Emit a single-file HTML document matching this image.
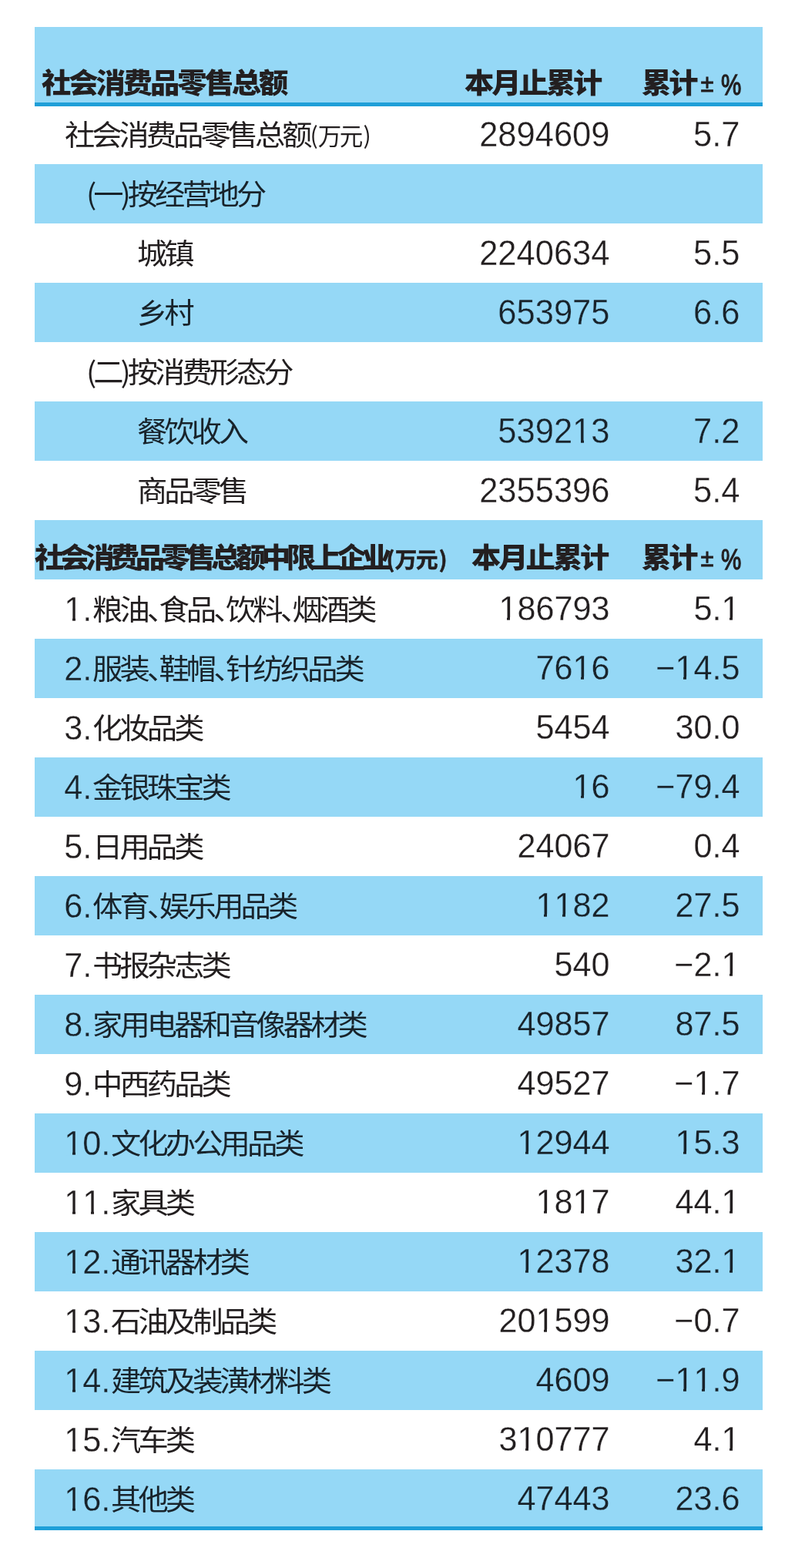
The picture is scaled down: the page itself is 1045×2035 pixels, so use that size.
<!DOCTYPE html>
<html lang="zh-CN">
<head>
<meta charset="utf-8">
<title>社会消费品零售总额</title>
<style>
html,body{margin:0;padding:0;background:#fff;}
body{width:1045px;height:2035px;position:relative;overflow:hidden;font-family:"Liberation Sans","Noto Sans CJK SC",sans-serif;color:#231f20;}
.bg{position:absolute;left:45px;width:945px;background:#95d8f6;}
.ln{position:absolute;left:45px;width:945px;height:4.5px;background:#1f9fd8;}
.r{position:absolute;left:0;width:1045px;height:77px;line-height:77px;white-space:nowrap;}
.r.b{color:#18232b;}
.l{position:absolute;top:0;height:77px;white-space:nowrap;}
.l .n{margin-right:1px;}
.n,.v,.p{font-kerning:none;-webkit-text-stroke:0.25px #fff;}
.b .n,.b .v,.b .p{-webkit-text-stroke-color:#95d8f6;}
.n{font-size:43.2px;font-family:"Liberation Sans",sans-serif;display:inline-block;transform:translateY(0px) scaleY(1.027);transform-origin:0 69%;}
.c{font-size:37.1px;font-weight:400;font-family:"Noto Sans CJK SC","Liberation Sans",sans-serif;letter-spacing:-3.704px;display:inline-block;transform:scaleX(1.06);transform-origin:0 50%;position:relative;top:-0.8px;font-feature-settings:"halt";}
.t1 .c{letter-spacing:-3.798px;}
.d{display:inline-block;width:14.53px;letter-spacing:0;}
.v,.p{position:absolute;top:0;font-size:43.2px;text-align:right;transform:translateY(0px) scaleY(1.027);transform-origin:100% 69%;}
.t1 .v,.t1 .p{font-size:43.5px;transform:translateY(1px) scaleY(1.053);-webkit-text-stroke-width:0.3px;}
.mw{position:absolute;left:0;top:0;width:3em;height:77px;font-size:43.2px;transform:translateY(0px) scaleY(1.027);transform-origin:0 69%;}
.m{position:absolute;top:calc(38.5px + 0.2720em - 1.1px);height:calc(0.0747em + 2.1px);background:#fff;}
.b .m{background:#95d8f6;}
.v{right:253.5px;}
.p{right:84.5px;}
.u{position:absolute;top:0;font-size:30.5px;letter-spacing:-2.40px;font-family:"Noto Sans CJK SC","Liberation Sans",sans-serif;}
.uc{position:relative;top:1.2px;margin:0 2.6px 0 2.2px;}
.hu{position:absolute;font-weight:700;font-size:28.6px;font-family:"Noto Sans CJK SC","Liberation Sans",sans-serif;white-space:nowrap;letter-spacing:-1.30px;line-height:50px;height:50px;color:#231f20;transform:scaleX(1.0);transform-origin:0 50%;-webkit-text-stroke:0.6px #231f20;}
.hu i{font-style:normal;font-weight:700;letter-spacing:0;}
.hu i:first-child{margin-right:0.4px;}
.hu i:last-child{margin-left:2.4px;}
.pm{position:absolute;font-size:31px;font-family:"Liberation Sans",sans-serif;line-height:50px;height:50px;color:#231f20;-webkit-text-stroke:0.8px #231f20;}
.pc{position:absolute;font-size:37px;font-family:"Liberation Sans",sans-serif;line-height:50px;height:50px;color:#231f20;transform:scaleX(0.8);transform-origin:0 50%;-webkit-text-stroke:1.3px #231f20;}
.h{position:absolute;font-weight:900;font-size:36.5px;font-family:"Noto Sans CJK SC","Liberation Sans",sans-serif;white-space:nowrap;letter-spacing:-2.929px;transform:scaleX(1.05);transform-origin:0 50%;line-height:50px;height:50px;color:#231f20;}
</style>
</head>
<body>
<div class="bg" style="top:35px;height:100px"></div>
<div class="bg" style="top:213px;height:77px"></div>
<div class="bg" style="top:367px;height:77px"></div>
<div class="bg" style="top:521px;height:77px"></div>
<div class="bg" style="top:675px;height:77px"></div>
<div class="bg" style="top:829px;height:77px"></div>
<div class="bg" style="top:983px;height:77px"></div>
<div class="bg" style="top:1137px;height:77px"></div>
<div class="bg" style="top:1291px;height:77px"></div>
<div class="bg" style="top:1445px;height:77px"></div>
<div class="bg" style="top:1599px;height:77px"></div>
<div class="bg" style="top:1753px;height:77px"></div>
<div class="bg" style="top:1907px;height:75px"></div>
<div class="ln" style="top:133.3px"></div>
<div class="ln" style="top:1981.3px"></div>
<div class="h" style="left:53.8px;top:80.7px;">社会消费品零售总额</div>
<div class="h" style="left:603.2px;top:80.7px">本月止累计</div>
<div class="h" style="left:833px;top:80.7px">累计</div>
<div class="pm" style="left:909.4px;top:84.0px">±</div>
<div class="pc" style="left:935.8px;top:85.9px">%</div>
<div class="h" style="left:45.0px;top:696.7px;letter-spacing:-5.357px;font-size:36.5px;">社会消费品零售总额中限上企业</div>
<div class="hu" style="left:501.6px;top:700.1px"><i>(</i>万元<i>)</i></div>
<div class="h" style="left:611.8px;top:696.7px">本月止累计</div>
<div class="h" style="left:833px;top:696.7px">累计</div>
<div class="pm" style="left:909.4px;top:700.0px">±</div>
<div class="pc" style="left:935.8px;top:701.9000000000001px">%</div>
<div class="r t1" style="top:136px"><div class="l" style="left:84.3px"><span class="c">社会消费品零售总额</span></div><span class="u" style="left:402.6px">(<span class="uc">万元</span>)</span><span class="v">2894609</span><span class="p">5.7</span></div>
<div class="r b t1" style="top:213px"><div class="l" style="left:112px"><span class="c">(一)按经营地分</span></div></div>
<div class="r t1" style="top:290px"><div class="l" style="left:177.6px"><span class="c">城镇</span></div><span class="v">2240634</span><span class="p">5.5</span></div>
<div class="r b t1" style="top:367px"><div class="l" style="left:177.6px"><span class="c">乡村</span></div><span class="v">653975</span><span class="p">6.6</span></div>
<div class="r t1" style="top:444px"><div class="l" style="left:112px"><span class="c">(二)按消费形态分</span></div></div>
<div class="r b t1" style="top:521px"><div class="l" style="left:177.6px"><span class="c">餐饮收入</span></div><span class="v">539213<i class="m" style="right:0.5850em;width:0.1875em"></i><i class="m" style="right:0.8608em;width:0.1953em"></i></span><span class="p">7.2</span></div>
<div class="r t1" style="top:598px"><div class="l" style="left:177.6px"><span class="c">商品零售</span></div><span class="v">2355396</span><span class="p">5.4</span></div>
<div class="r" style="top:752px"><div class="l" style="left:83.2px"><span class="n">1.</span><span class="c">粮油、食品、饮料、烟酒类</span><span class="mw"><i class="m" style="left:0.0562em;width:0.1953em"></i><i class="m" style="left:0.3398em;width:0.1875em"></i></span></div><span class="v">186793<i class="m" style="right:2.8096em;width:0.1875em"></i><i class="m" style="right:3.0854em;width:0.1953em"></i></span><span class="p">5.1<i class="m" style="right:0.0288em;width:0.1875em"></i><i class="m" style="right:0.3047em;width:0.1953em"></i></span></div>
<div class="r b" style="top:829px"><div class="l" style="left:83.2px"><span class="n">2.</span><span class="c">服装、鞋帽、针纺织品类</span></div><span class="v">7616<i class="m" style="right:0.5850em;width:0.1875em"></i><i class="m" style="right:0.8608em;width:0.1953em"></i></span><span class="p">−14.5<i class="m" style="right:1.4190em;width:0.1875em"></i><i class="m" style="right:1.6948em;width:0.1953em"></i></span></div>
<div class="r" style="top:906px"><div class="l" style="left:83.2px"><span class="n">3.</span><span class="c">化妆品类</span></div><span class="v">5454</span><span class="p">30.0</span></div>
<div class="r b" style="top:983px"><div class="l" style="left:83.2px"><span class="n">4.</span><span class="c">金银珠宝类</span></div><span class="v">16<i class="m" style="right:0.5850em;width:0.1875em"></i><i class="m" style="right:0.8608em;width:0.1953em"></i></span><span class="p">−79.4</span></div>
<div class="r" style="top:1060px"><div class="l" style="left:83.2px"><span class="n">5.</span><span class="c">日用品类</span></div><span class="v">24067</span><span class="p">0.4</span></div>
<div class="r b" style="top:1137px"><div class="l" style="left:83.2px"><span class="n">6.</span><span class="c">体育、娱乐用品类</span></div><span class="v">1182<i class="m" style="right:1.6973em;width:0.1875em"></i><i class="m" style="right:1.9731em;width:0.1953em"></i><i class="m" style="right:1.1411em;width:0.1875em"></i><i class="m" style="right:1.4170em;width:0.1953em"></i></span><span class="p">27.5</span></div>
<div class="r" style="top:1214px"><div class="l" style="left:83.2px"><span class="n">7.</span><span class="c">书报杂志类</span></div><span class="v">540</span><span class="p">−2.1<i class="m" style="right:0.0288em;width:0.1875em"></i><i class="m" style="right:0.3047em;width:0.1953em"></i></span></div>
<div class="r b" style="top:1291px"><div class="l" style="left:83.2px"><span class="n">8.</span><span class="c">家用电器和音像器材类</span></div><span class="v">49857</span><span class="p">87.5</span></div>
<div class="r" style="top:1368px"><div class="l" style="left:83.2px"><span class="n">9.</span><span class="c">中西药品类</span></div><span class="v">49527</span><span class="p">−1.7<i class="m" style="right:0.8628em;width:0.1875em"></i><i class="m" style="right:1.1387em;width:0.1953em"></i></span></div>
<div class="r b" style="top:1445px"><div class="l" style="left:83.2px"><span class="n">10.</span><span class="c">文化办公用品类</span><span class="mw"><i class="m" style="left:0.0562em;width:0.1953em"></i><i class="m" style="left:0.3398em;width:0.1875em"></i></span></div><span class="v">12944<i class="m" style="right:2.2534em;width:0.1875em"></i><i class="m" style="right:2.5293em;width:0.1953em"></i></span><span class="p">15.3<i class="m" style="right:1.4190em;width:0.1875em"></i><i class="m" style="right:1.6948em;width:0.1953em"></i></span></div>
<div class="r" style="top:1522px"><div class="l" style="left:83.2px"><span class="n">11.</span><span class="c">家具类</span><span class="mw"><i class="m" style="left:0.0562em;width:0.1953em"></i><i class="m" style="left:0.3398em;width:0.1875em"></i><i class="m" style="left:0.6123em;width:0.1953em"></i><i class="m" style="left:0.8960em;width:0.1875em"></i></span></div><span class="v">1817<i class="m" style="right:1.6973em;width:0.1875em"></i><i class="m" style="right:1.9731em;width:0.1953em"></i><i class="m" style="right:0.5850em;width:0.1875em"></i><i class="m" style="right:0.8608em;width:0.1953em"></i></span><span class="p">44.1<i class="m" style="right:0.0288em;width:0.1875em"></i><i class="m" style="right:0.3047em;width:0.1953em"></i></span></div>
<div class="r b" style="top:1599px"><div class="l" style="left:83.2px"><span class="n">12.</span><span class="c">通讯器材类</span><span class="mw"><i class="m" style="left:0.0562em;width:0.1953em"></i><i class="m" style="left:0.3398em;width:0.1875em"></i></span></div><span class="v">12378<i class="m" style="right:2.2534em;width:0.1875em"></i><i class="m" style="right:2.5293em;width:0.1953em"></i></span><span class="p">32.1<i class="m" style="right:0.0288em;width:0.1875em"></i><i class="m" style="right:0.3047em;width:0.1953em"></i></span></div>
<div class="r" style="top:1676px"><div class="l" style="left:83.2px"><span class="n">13.</span><span class="c">石油及制品类</span><span class="mw"><i class="m" style="left:0.0562em;width:0.1953em"></i><i class="m" style="left:0.3398em;width:0.1875em"></i></span></div><span class="v">201599<i class="m" style="right:1.6973em;width:0.1875em"></i><i class="m" style="right:1.9731em;width:0.1953em"></i></span><span class="p">−0.7</span></div>
<div class="r b" style="top:1753px"><div class="l" style="left:83.2px"><span class="n">14.</span><span class="c">建筑及装潢材料类</span><span class="mw"><i class="m" style="left:0.0562em;width:0.1953em"></i><i class="m" style="left:0.3398em;width:0.1875em"></i></span></div><span class="v">4609</span><span class="p">−11.9<i class="m" style="right:1.4190em;width:0.1875em"></i><i class="m" style="right:1.6948em;width:0.1953em"></i><i class="m" style="right:0.8628em;width:0.1875em"></i><i class="m" style="right:1.1387em;width:0.1953em"></i></span></div>
<div class="r" style="top:1830px"><div class="l" style="left:83.2px"><span class="n">15.</span><span class="c">汽车类</span><span class="mw"><i class="m" style="left:0.0562em;width:0.1953em"></i><i class="m" style="left:0.3398em;width:0.1875em"></i></span></div><span class="v">310777<i class="m" style="right:2.2534em;width:0.1875em"></i><i class="m" style="right:2.5293em;width:0.1953em"></i></span><span class="p">4.1<i class="m" style="right:0.0288em;width:0.1875em"></i><i class="m" style="right:0.3047em;width:0.1953em"></i></span></div>
<div class="r b" style="top:1907px"><div class="l" style="left:83.2px"><span class="n">16.</span><span class="c">其他类</span><span class="mw"><i class="m" style="left:0.0562em;width:0.1953em"></i><i class="m" style="left:0.3398em;width:0.1875em"></i></span></div><span class="v">47443</span><span class="p">23.6</span></div>
</body>
</html>
